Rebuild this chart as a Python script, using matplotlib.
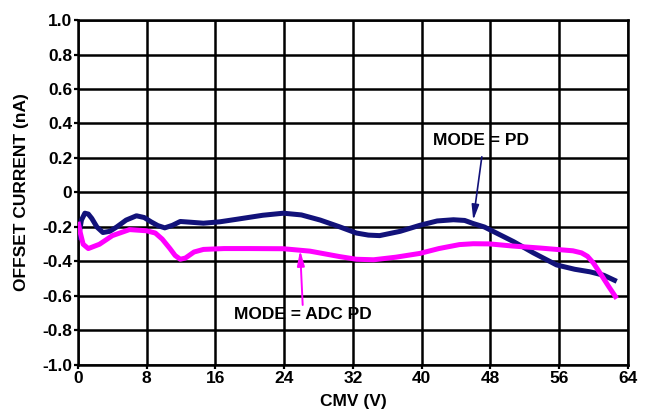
import matplotlib.pyplot as plt

plt.rcParams['font.family'] = ['Liberation Sans', 'DejaVu Sans']
plt.rcParams['font.weight'] = 'bold'

# MODE = PD (navy)
pd_x = [0, 0.4, 0.8, 1.2, 1.6, 2.2, 2.9, 3.7, 4.5, 5.6, 6.8, 7.7, 8.5, 9.3, 10.1, 11.0, 11.9, 13.0,
        14.6, 16.5, 18.5, 21.5, 23.9, 26.0, 28.2, 30.5, 32.4, 33.8, 35.1, 37.5, 39.8, 41.8, 43.7, 45.0,
        46.0, 47.3, 48.5, 50.7, 53.0, 55.7, 57.8, 59.6, 61.2, 62.7]
pd_y = [-0.275, -0.16, -0.12, -0.125, -0.15, -0.2, -0.232, -0.225, -0.2, -0.16, -0.135, -0.145,
        -0.17, -0.192, -0.205, -0.19, -0.168, -0.172, -0.178, -0.17, -0.155, -0.132, -0.12, -0.13,
        -0.16, -0.2, -0.235, -0.247, -0.25, -0.225, -0.19, -0.165, -0.158, -0.162, -0.18, -0.2,
        -0.23, -0.285, -0.35, -0.42, -0.445, -0.46, -0.48, -0.515]

# MODE = ADC PD (magenta)
adc_x = [0, 0.3, 0.6, 1.2, 2.5, 4.0, 6.0, 8.0, 9.0, 9.8, 10.7, 11.3, 11.9, 12.5, 13.5, 14.6, 17.0,
         20.0, 23.9, 27.0, 30.5, 32.4, 34.4, 37.0, 39.8, 42.0, 44.4, 46.0, 47.9, 50.5, 53.8, 57.6,
         58.6, 59.3, 60.0, 60.8, 61.7, 62.7]
adc_y = [-0.17, -0.24, -0.3, -0.325, -0.3, -0.25, -0.215, -0.222, -0.235, -0.27, -0.325, -0.365,
         -0.387, -0.38, -0.345, -0.33, -0.325, -0.325, -0.326, -0.34, -0.372, -0.387, -0.39, -0.375,
         -0.353, -0.325, -0.302, -0.297, -0.298, -0.31, -0.322, -0.338, -0.35, -0.37, -0.41, -0.47,
         -0.54, -0.615]

x_ticks = [0, 8, 16, 24, 32, 40, 48, 56, 64]
y_ticks = [-1.0, -0.8, -0.6, -0.4, -0.2, 0, 0.2, 0.4, 0.6, 0.8, 1.0]
y_labels = ['-1.0', '-0.8', '-0.6', '-0.4', '-0.2', '0', '0.2', '0.4', '0.6', '0.8', '1.0']

navy = '#12127a'
magenta = '#ff00ff'
fs = 12.5

fig = plt.figure(figsize=(6.5, 4.15), dpi=100)
ax = fig.add_axes([0.12, 0.1205, 0.846, 0.8313])

ax.plot(pd_x, pd_y, color=navy, lw=3.6, solid_capstyle='butt', solid_joinstyle='round', zorder=3)
ax.plot(adc_x, adc_y, color=magenta, lw=3.6, solid_capstyle='butt', solid_joinstyle='round', zorder=3)

ax.set_xlim(0, 64)
ax.set_ylim(-1.0, 1.0)
ax.set_xticks(x_ticks)
ax.set_xticklabels([str(t) for t in x_ticks])
ax.set_yticks(y_ticks)
ax.set_yticklabels(y_labels)
ax.grid(True, color='black', lw=1.8)
ax.set_axisbelow(True)
for s in ax.spines.values():
    s.set_linewidth(1.8)
ax.tick_params(length=3, width=1.6, labelsize=fs, pad=1)

ax.set_xlabel('CMV (V)', fontsize=fs, fontweight='bold', labelpad=6)
ax.set_ylabel('OFFSET CURRENT (nA)', fontsize=fs, fontweight='bold', labelpad=10)

ax.text(46.9, 0.30, 'MODE = PD', ha='center', va='center', fontsize=fs, fontweight='bold')
ax.annotate('', xy=(46.0, -0.16), xytext=(47.0, 0.207),
            arrowprops=dict(arrowstyle='-|>,head_length=0.9,head_width=0.22', color=navy, lw=1.2,
                            shrinkA=0, shrinkB=0))
ax.text(26.2, -0.71, 'MODE = ADC PD', ha='center', va='center', fontsize=fs, fontweight='bold')
ax.annotate('', xy=(25.85, -0.335), xytext=(26.15, -0.652),
            arrowprops=dict(arrowstyle='-|>,head_length=0.9,head_width=0.22', color=magenta, lw=1.4,
                            shrinkA=0, shrinkB=0))

fig.savefig('out.png', dpi=100)
